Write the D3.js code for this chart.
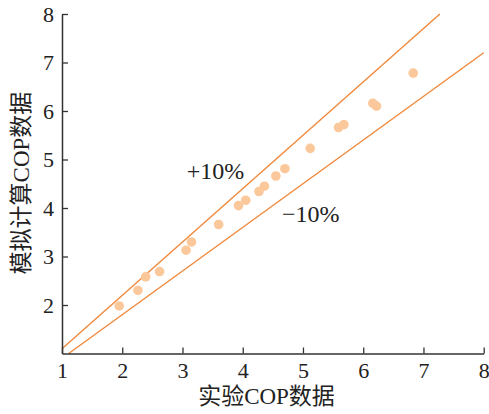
<!DOCTYPE html>
<html>
<head>
<meta charset="utf-8">
<script src="https://cdn.jsdelivr.net/npm/d3@7"></script>
<style>
  html, body { margin: 0; padding: 0; background: #fff; }
  svg { display: block; }
  text { font-family: "Liberation Serif", "Noto Sans CJK SC", serif; fill: #222; }
</style>
</head>
<body>
<svg id="chart" width="489" height="414"></svg>
<script>
// Experimental vs. simulated COP
const expCOP = [1.95, 2.26, 2.39, 2.62, 3.06, 3.15, 3.60, 3.93, 4.05, 4.27, 4.36, 4.55, 4.70, 5.12, 5.59, 5.68, 6.16, 6.22, 6.83];
const simCOP = [1.98, 2.30, 2.58, 2.69, 3.13, 3.30, 3.66, 4.05, 4.16, 4.34, 4.45, 4.66, 4.81, 5.23, 5.66, 5.72, 6.16, 6.10, 6.78];

// ±10% deviation bands
const bandLabels = ["+10%", "\u221210%"];
const bandFactors = [1.1, 0.9];
const bandLabelX = [3.07, 4.65];
const bandLabelY = [4.59, 3.72];

const axisTicks = [1, 2, 3, 4, 5, 6, 7, 8];
const xTitle = "实验COP数据";
const yTitle = "模拟计算COP数据";

const W = 489, H = 414;
const margin = { left: 62, right: 5.3, top: 14, bottom: 60.5 };

const svg = d3.select("#chart");

const x = d3.scaleLinear().domain([1, 8]).range([margin.left, W - margin.right]);
const y = d3.scaleLinear().domain([1, 8]).range([H - margin.bottom, margin.top]);

const orange = "#f0883a";
const dotColor = "#fbc89b";

// Deviation lines y = k·x, clipped to the plotting domain
bandFactors.forEach(k => {
  const [x0, x1] = x.domain();
  const [y0, y1] = y.domain();
  const xs = Math.max(x0, y0 / k);
  const xe = Math.min(x1, y1 / k);
  svg.append("line")
    .attr("x1", x(xs)).attr("y1", y(k * xs))
    .attr("x2", x(xe)).attr("y2", y(k * xe))
    .attr("stroke", orange)
    .attr("stroke-width", 1.4);
});

// Data points
svg.append("g")
  .selectAll("circle")
  .data(expCOP.map((v, i) => [v, simCOP[i]]))
  .join("circle")
  .attr("cx", d => x(d[0]))
  .attr("cy", d => y(d[1]))
  .attr("r", 4.8)
  .attr("fill", dotColor);

// Band labels
svg.append("g")
  .selectAll("text")
  .data(bandLabels)
  .join("text")
  .attr("x", (d, i) => x(bandLabelX[i]))
  .attr("y", (d, i) => y(bandLabelY[i]))
  .attr("font-size", 24)
  .text(d => d);

// Axes with inward ticks
const xAxis = svg.append("g")
  .attr("transform", `translate(0,${H - margin.bottom})`)
  .call(d3.axisBottom(x).tickValues(axisTicks).tickFormat(d3.format("d"))
    .tickSizeInner(-6).tickSizeOuter(0).tickPadding(9));

const yAxis = svg.append("g")
  .attr("transform", `translate(${margin.left},0)`)
  .call(d3.axisLeft(y).tickValues(axisTicks.slice(1)).tickFormat(d3.format("d"))
    .tickSizeInner(-6).tickSizeOuter(0).tickPadding(8));

[xAxis, yAxis].forEach(g => {
  g.attr("font-family", null).attr("font-size", null);
  g.select(".domain").attr("stroke", "#333").attr("stroke-width", 1.5);
  g.selectAll(".tick line").attr("stroke", "#333").attr("stroke-width", 1.3);
  g.selectAll(".tick text").attr("font-size", 22).attr("fill", "#222");
});

// Axis titles
svg.append("text")
  .attr("x", 266.5)
  .attr("y", 404)
  .attr("text-anchor", "middle")
  .attr("font-size", 23)
  .text(xTitle);

svg.append("text")
  .attr("transform", "translate(29,183) rotate(-90)")
  .attr("text-anchor", "middle")
  .attr("font-size", 23)
  .text(yTitle);
</script>
</body>
</html>
